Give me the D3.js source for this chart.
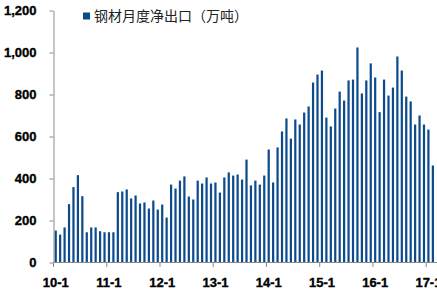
<!DOCTYPE html>
<html><head><meta charset="utf-8">
<script src="https://cdn.jsdelivr.net/npm/d3@7"></script>
<style>
html,body{margin:0;padding:0;background:#fff;}
svg{display:block;}
</style></head>
<body>
<svg id="c" width="437" height="293"></svg>
<script>
const seriesName = "钢材月度净出口（万吨）";
const categories = [
 "10-1","10-2","10-3","10-4","10-5","10-6","10-7","10-8","10-9","10-10","10-11","10-12",
 "11-1","11-2","11-3","11-4","11-5","11-6","11-7","11-8","11-9","11-10","11-11","11-12",
 "12-1","12-2","12-3","12-4","12-5","12-6","12-7","12-8","12-9","12-10","12-11","12-12",
 "13-1","13-2","13-3","13-4","13-5","13-6","13-7","13-8","13-9","13-10","13-11","13-12",
 "14-1","14-2","14-3","14-4","14-5","14-6","14-7","14-8","14-9","14-10","14-11","14-12",
 "15-1","15-2","15-3","15-4","15-5","15-6","15-7","15-8","15-9","15-10","15-11","15-12",
 "16-1","16-2","16-3","16-4","16-5","16-6","16-7","16-8","16-9","16-10","16-11","16-12",
 "17-1","17-2"
];
const netExports = [
 152,133,167,278,359,416,316,144,167,167,149,144,
 144,144,335,338,348,305,319,281,286,257,295,252,
 276,214,371,352,390,410,314,300,390,376,405,376,
 381,333,405,429,414,419,395,490,367,390,371,414,
 538,381,548,624,686,590,681,657,714,743,857,895,
 914,690,648,733,814,771,867,871,1024,805,867,948,
 881,716,871,795,833,981,914,790,767,657,700,657,
 633,462
];
const xTickLabels = ["10-1","11-1","12-1","13-1","14-1","15-1","16-1","17-1"];
const yTicks = [0,200,400,600,800,1000,1200];

const W = 437, H = 293;
const plotLeft = 53.5, step = 4.437, plotTop = 10.5, plotBottom = 262.5;
const barColor = "#0c4a8c", axisColor = "#8a8a8a";
const labelFont = "'Liberation Sans', Arial, sans-serif";

const svg = d3.select("#c");
const x = d3.scaleBand().domain(categories)
  .range([plotLeft, plotLeft + step * categories.length])
  .paddingInner(0.5).paddingOuter(0.25);
const y = d3.scaleLinear().domain([0, 1200]).range([plotBottom, plotTop]);

// bars
svg.append("g").selectAll("rect").data(categories).join("rect")
  .attr("x", d => x(d))
  .attr("width", x.bandwidth())
  .attr("y", (d, i) => y(netExports[i]))
  .attr("height", (d, i) => y(0) - y(netExports[i]))
  .attr("fill", barColor);

// y axis
const yAxis = svg.append("g").attr("transform", `translate(${plotLeft},0)`)
  .call(d3.axisLeft(y).tickValues(yTicks).tickFormat(d3.format(",")).tickSize(4).tickPadding(13).tickSizeOuter(0));
yAxis.select(".domain").attr("stroke", axisColor);
yAxis.selectAll(".tick line").attr("stroke", axisColor);
yAxis.selectAll("text").attr("fill", "#000").attr("font-family", labelFont)
  .attr("font-weight", "bold").attr("font-size", 13)
  .attr("stroke", "#000").attr("stroke-width", 0.35);

// x axis line
svg.append("line").attr("x1", plotLeft).attr("x2", W).attr("y1", plotBottom).attr("y2", plotBottom)
  .attr("stroke", axisColor);
const half = step * 0.25;
const xt = svg.append("g").selectAll("g").data(xTickLabels).join("g");
xt.append("line")
  .attr("x1", d => x(d) - half).attr("x2", d => x(d) - half)
  .attr("y1", plotBottom).attr("y2", plotBottom + 4.5)
  .attr("stroke", axisColor);
xt.append("text")
  .attr("x", d => x(d) + x.bandwidth() / 2)
  .attr("y", 286.5)
  .attr("text-anchor", "middle")
  .attr("font-family", labelFont).attr("font-weight", "bold").attr("font-size", 13)
  .attr("fill", "#000").attr("stroke", "#000").attr("stroke-width", 0.35)
  .text(d => d);

// legend
svg.append("rect").attr("x", 83).attr("y", 12.5).attr("width", 7).attr("height", 7).attr("fill", barColor);
svg.append("text").attr("x", 94).attr("y", 17.5).attr("dominant-baseline", "middle")
  .attr("font-family", "'Noto Sans CJK SC', sans-serif").attr("font-size", 14)
  .attr("fill", "#222").text(seriesName);
</script>
</body></html>
